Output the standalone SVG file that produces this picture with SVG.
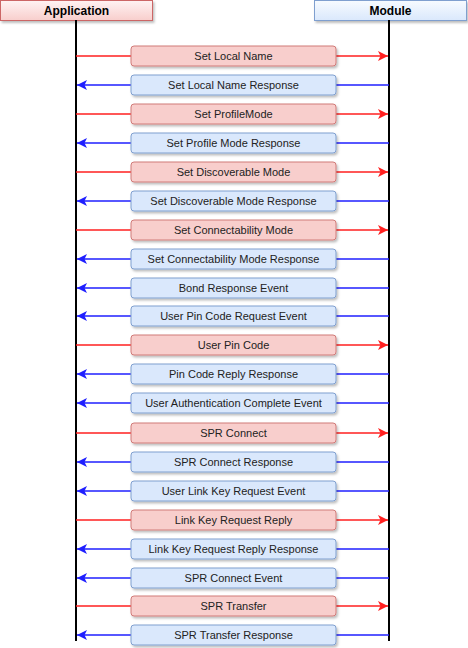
<svg xmlns="http://www.w3.org/2000/svg" width="468" height="648" viewBox="0 0 468 648">
<defs>
<linearGradient id="gr" x1="0" y1="0" x2="0" y2="1"><stop offset="0" stop-color="#fff3f3"/><stop offset="1" stop-color="#f8cecc"/></linearGradient>
<linearGradient id="gb" x1="0" y1="0" x2="0" y2="1"><stop offset="0" stop-color="#f7fbff"/><stop offset="1" stop-color="#dae8fc"/></linearGradient>
<marker id="ar" viewBox="0 0 10 10" refX="10" refY="5" markerWidth="10" markerHeight="10" markerUnits="userSpaceOnUse" orient="auto"><path d="M0,0 L10,5 L0,10 L2.5,5 Z" fill="#ff1f1f"/></marker>
<marker id="ab" viewBox="0 0 10 10" refX="10" refY="5" markerWidth="10" markerHeight="10" markerUnits="userSpaceOnUse" orient="auto"><path d="M0,0 L10,5 L0,10 L2.5,5 Z" fill="#1f1fff"/></marker>
<filter id="sh" x="-5%" y="-20%" width="110%" height="150%"><feDropShadow dx="1.5" dy="2" stdDeviation="0.8" flood-color="#000" flood-opacity="0.25"/></filter>
</defs>
<style>
.hd{font-family:"Liberation Sans",Arial,sans-serif;font-size:12px;font-weight:bold;fill:#000;text-anchor:middle}
.t{font-family:"Liberation Sans",Arial,sans-serif;font-size:11px;fill:#222;text-anchor:middle}
.r{fill:#f8cecc;stroke:#d07a78;stroke-width:1}
.b{fill:#dae8fc;stroke:#7f9fcf;stroke-width:1}
.lr{stroke:#ff2020;stroke-width:1.6;fill:none}
.lb{stroke:#2020ff;stroke-width:1.6;fill:none}
.life{stroke:#000;stroke-width:2}
</style>
<g id="hdr-app"><rect x="0.5" y="0.5" width="152" height="20" fill="url(#gr)" stroke="#c66" filter="url(#sh)"/><text class="hd" x="76.5" y="15">Application</text></g>
<g id="hdr-mod"><rect x="314.5" y="0.5" width="152" height="20" fill="url(#gb)" stroke="#7f9fcf" filter="url(#sh)"/><text class="hd" x="390.5" y="15">Module</text></g>
<g id="connectors">
<line class="life" x1="76" y1="20" x2="76" y2="641"/>
<line class="life" x1="389" y1="20" x2="389" y2="641"/>
<path class="lr" d="M76,56H131M336,56H388" marker-end="url(#ar)"/>
<path class="lb" d="M389,85H336M131,85H77" marker-end="url(#ab)"/>
<path class="lr" d="M76,114H131M336,114H388" marker-end="url(#ar)"/>
<path class="lb" d="M389,143H336M131,143H77" marker-end="url(#ab)"/>
<path class="lr" d="M76,172H131M336,172H388" marker-end="url(#ar)"/>
<path class="lb" d="M389,201H336M131,201H77" marker-end="url(#ab)"/>
<path class="lr" d="M76,230H131M336,230H388" marker-end="url(#ar)"/>
<path class="lb" d="M389,259H336M131,259H77" marker-end="url(#ab)"/>
<path class="lb" d="M389,288H336M131,288H77" marker-end="url(#ab)"/>
<path class="lb" d="M389,316H336M131,316H77" marker-end="url(#ab)"/>
<path class="lr" d="M76,345H131M336,345H388" marker-end="url(#ar)"/>
<path class="lb" d="M389,374H336M131,374H77" marker-end="url(#ab)"/>
<path class="lb" d="M389,403H336M131,403H77" marker-end="url(#ab)"/>
<path class="lr" d="M76,433H131M336,433H388" marker-end="url(#ar)"/>
<path class="lb" d="M389,462H336M131,462H77" marker-end="url(#ab)"/>
<path class="lb" d="M389,491H336M131,491H77" marker-end="url(#ab)"/>
<path class="lr" d="M76,520H131M336,520H388" marker-end="url(#ar)"/>
<path class="lb" d="M389,549H336M131,549H77" marker-end="url(#ab)"/>
<path class="lb" d="M389,578H336M131,578H77" marker-end="url(#ab)"/>
<path class="lr" d="M76,606H131M336,606H388" marker-end="url(#ar)"/>
<path class="lb" d="M389,635H336M131,635H77" marker-end="url(#ab)"/>
</g>
<g id="m1"><rect class="r" x="131" y="46" width="205" height="20" rx="3" filter="url(#sh)"/><text class="t" x="233.5" y="60">Set Local Name</text></g>
<g id="m2"><rect class="b" x="131" y="75" width="205" height="20" rx="3" filter="url(#sh)"/><text class="t" x="233.5" y="89">Set Local Name Response</text></g>
<g id="m3"><rect class="r" x="131" y="104" width="205" height="20" rx="3" filter="url(#sh)"/><text class="t" x="233.5" y="118">Set ProfileMode</text></g>
<g id="m4"><rect class="b" x="131" y="133" width="205" height="20" rx="3" filter="url(#sh)"/><text class="t" x="233.5" y="147">Set Profile Mode Response</text></g>
<g id="m5"><rect class="r" x="131" y="162" width="205" height="20" rx="3" filter="url(#sh)"/><text class="t" x="233.5" y="176">Set Discoverable Mode</text></g>
<g id="m6"><rect class="b" x="131" y="191" width="205" height="20" rx="3" filter="url(#sh)"/><text class="t" x="233.5" y="205">Set Discoverable Mode Response</text></g>
<g id="m7"><rect class="r" x="131" y="220" width="205" height="20" rx="3" filter="url(#sh)"/><text class="t" x="233.5" y="234">Set Connectability Mode</text></g>
<g id="m8"><rect class="b" x="131" y="249" width="205" height="20" rx="3" filter="url(#sh)"/><text class="t" x="233.5" y="263">Set Connectability Mode Response</text></g>
<g id="m9"><rect class="b" x="131" y="278" width="205" height="20" rx="3" filter="url(#sh)"/><text class="t" x="233.5" y="292">Bond Response Event</text></g>
<g id="m10"><rect class="b" x="131" y="306" width="205" height="20" rx="3" filter="url(#sh)"/><text class="t" x="233.5" y="320">User Pin Code Request Event</text></g>
<g id="m11"><rect class="r" x="131" y="335" width="205" height="20" rx="3" filter="url(#sh)"/><text class="t" x="233.5" y="349">User Pin Code</text></g>
<g id="m12"><rect class="b" x="131" y="364" width="205" height="20" rx="3" filter="url(#sh)"/><text class="t" x="233.5" y="378">Pin Code Reply Response</text></g>
<g id="m13"><rect class="b" x="131" y="393" width="205" height="20" rx="3" filter="url(#sh)"/><text class="t" x="233.5" y="407">User Authentication Complete Event</text></g>
<g id="m14"><rect class="r" x="131" y="423" width="205" height="20" rx="3" filter="url(#sh)"/><text class="t" x="233.5" y="437">SPR Connect</text></g>
<g id="m15"><rect class="b" x="131" y="452" width="205" height="20" rx="3" filter="url(#sh)"/><text class="t" x="233.5" y="466">SPR Connect Response</text></g>
<g id="m16"><rect class="b" x="131" y="481" width="205" height="20" rx="3" filter="url(#sh)"/><text class="t" x="233.5" y="495">User Link Key Request Event</text></g>
<g id="m17"><rect class="r" x="131" y="510" width="205" height="20" rx="3" filter="url(#sh)"/><text class="t" x="233.5" y="524">Link Key Request Reply</text></g>
<g id="m18"><rect class="b" x="131" y="539" width="205" height="20" rx="3" filter="url(#sh)"/><text class="t" x="233.5" y="553">Link Key Request Reply Response</text></g>
<g id="m19"><rect class="b" x="131" y="568" width="205" height="20" rx="3" filter="url(#sh)"/><text class="t" x="233.5" y="582">SPR Connect Event</text></g>
<g id="m20"><rect class="r" x="131" y="596" width="205" height="20" rx="3" filter="url(#sh)"/><text class="t" x="233.5" y="610">SPR Transfer</text></g>
<g id="m21"><rect class="b" x="131" y="625" width="205" height="20" rx="3" filter="url(#sh)"/><text class="t" x="233.5" y="639">SPR Transfer Response</text></g>
</svg>
